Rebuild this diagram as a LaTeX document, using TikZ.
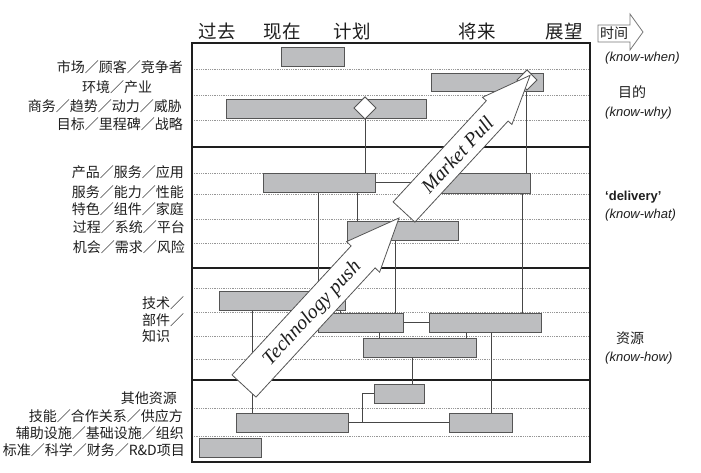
\documentclass[tikz,border=0pt]{standalone}
\usepackage{fontspec}
\setmainfont{Liberation Sans}
\newfontfamily\cjk{Noto Sans CJK SC}
\newfontfamily\tms{Liberation Serif}
\usetikzlibrary{shapes.geometric}
\definecolor{barfill}{RGB}{189,190,192}
\definecolor{bardraw}{RGB}{85,85,85}
\definecolor{gridc}{RGB}{150,150,150}
\definecolor{linec}{RGB}{70,70,70}
\definecolor{txt}{RGB}{30,30,30}
\begin{document}
\begin{tikzpicture}[x=1pt,y=-1pt,
  bar/.style={draw=bardraw, fill=barfill, line width=0.8pt, inner sep=0pt, outer sep=0pt},
  ms/.style={diamond, draw=bardraw, fill=white, line width=0.8pt, inner sep=0pt, outer sep=0pt},
  conn/.style={draw=linec, line width=0.7pt},
  gridline/.style={draw=gridc, line width=0.8pt, densely dotted},
  sep/.style={draw=txt, line width=2.6pt},
  bigarrow/.style={draw=bardraw, fill=white, line width=0.8pt, line join=miter},
  lab/.style={font=\cjk\fontsize{14}{16}\selectfont, text=txt, inner sep=0pt},
  head/.style={font=\cjk\fontsize{18.5}{20}\selectfont, text=txt, inner sep=0pt},
  kn/.style={font=\itshape\fontsize{13}{15}\selectfont, text=txt, inner sep=0pt, anchor=west},
  atext/.style={font=\tms\itshape\fontsize{20}{21}\selectfont, text=txt, inner sep=0pt, rotate=47.3}]
\useasboundingbox (0,0) rectangle (701,472);

% grid
\foreach \yy in {69,95,120,173,194,219,243,288,312,336,359,408,436}
  \draw[gridline] (192,\yy) -- (590,\yy);
\foreach \yy in {147,268,380}
  \draw[sep] (192,\yy) -- (590,\yy);
\draw[draw=txt, line width=2.6pt] (192,43) rectangle (590,462);

% header
\node[head] (past) at (217,31) {过去};
\node[head] (now) at (282,31) {现在};
\node[head] (plan) at (352,31) {计划};
\node[head] (fut) at (477,31) {将来};
\node[head] (vis) at (564,31) {展望};
\draw[draw=gridc!80!black, line width=0.8pt, fill=white] (598,25) -- (630,25) -- (630,14) -- (643,32) -- (630,50) -- (630,42) -- (598,42) -- cycle;
\node[font=\cjk\fontsize{14}{16}\selectfont, text=txt, inner sep=0pt] (time) at (614,33.5) {时间};

% right labels
\node[kn] (kwhen) at (605,58) {(know-when)};
\node[lab] (mudi) at (632,92) {目的};
\node[kn] (kwhy) at (605,113) {(know-why)};
\node[font=\bfseries\fontsize{13}{15}\selectfont, text=txt, inner sep=0pt, anchor=west] (deliv) at (605,197) {‘delivery’};
\node[kn] (kwhat) at (605,215) {(know-what)};
\node[lab] (ziyuan) at (630,338) {资源};
\node[kn] (khow) at (605,358) {(know-how)};

% left labels
\node[lab, anchor=east] (l1) at (183,67) {市场／顾客／竞争者};
\node[lab] (l2) at (117,87) {环境／产业};
\node[lab, anchor=east] (l3) at (182,106) {商务／趋势／动力／威胁};
\node[lab, anchor=east] (l4) at (183,124) {目标／里程碑／战略};
\node[lab, anchor=east] (l5) at (184,172) {产品／服务／应用};
\node[lab, anchor=east] (l6) at (184,192) {服务／能力／性能};
\node[lab, anchor=east] (l7) at (184,209) {特色／组件／家庭};
\node[lab, anchor=east] (l8) at (185,227) {过程／系统／平台};
\node[lab, anchor=east] (l9) at (185,247) {机会／需求／风险};
\node[lab, anchor=west] (l10) at (142,303) {技术／};
\node[lab, anchor=west] (l11) at (142,320) {部件／};
\node[lab, anchor=west] (l12) at (142,336) {知识};
\node[lab, anchor=east] (l13) at (177,398) {其他资源};
\node[lab, anchor=east] (l14) at (183,416) {技能／合作关系／供应方};
\node[lab, anchor=east] (l15) at (184,433) {辅助设施／基础设施／组织};
\node[lab, anchor=east] (l16) at (185,450) {标准／科学／财务／R\&D项目};

% bars (positions)
\path
  (312.5,56.5) node[bar, minimum width=63pt, minimum height=19pt] (A) {}
  (487,82)     node[bar, minimum width=112pt, minimum height=18pt] (B) {}
  (326,108.5)  node[bar, minimum width=200pt, minimum height=19pt] (C) {}
  (319,182.5)  node[bar, minimum width=112pt, minimum height=19pt] (D) {}
  (477.5,183)  node[bar, minimum width=105pt, minimum height=20pt] (E) {}
  (402.5,230.5) node[bar, minimum width=111pt, minimum height=19pt] (F) {}
  (282,300.5)  node[bar, minimum width=126pt, minimum height=19pt] (G) {}
  (360.5,322.5) node[bar, minimum width=85pt, minimum height=19pt] (H) {}
  (485,322.5)  node[bar, minimum width=112pt, minimum height=19pt] (I) {}
  (419.5,347.5) node[bar, minimum width=113pt, minimum height=19pt] (J) {}
  (399,393.5)  node[bar, minimum width=50pt, minimum height=19pt] (K) {}
  (480.5,422.5) node[bar, minimum width=63pt, minimum height=19pt] (L) {}
  (292,422.5)  node[bar, minimum width=112pt, minimum height=19pt] (M) {}
  (230,447.5)  node[bar, minimum width=62pt, minimum height=19pt] (N) {};

% milestones
\node[ms, minimum width=22pt, minimum height=22pt] (dC) at (365,108) {};
\node[ms, minimum width=20pt, minimum height=20pt] (dB) at (527,80) {};

% connectors
\coordinate (jn) at (362,422.5);
\draw[conn] (dC.south) -- (dC.south |- D.north);
\draw[conn] ([xshift=-1pt]dB.south) -- ([xshift=-1pt]dB.south |- E.north);
\draw[conn] (D.east) -- (D.east -| E.west);
\draw[conn] ([xshift=-1pt]D.south) -- ([xshift=-1pt]D.south |- G.north);
\draw[conn] ([xshift=38pt]D.south) -- ([xshift=38pt]D.south |- F.north);
\draw[conn] ([xshift=44.5pt]E.south) -- ([xshift=44.5pt]E.south |- I.north);
\draw[conn] ([xshift=-7.5pt]F.south) -- ([xshift=-7.5pt]F.south |- H.north);
\draw[conn] ([xshift=-30pt]G.south) -- ([xshift=-30pt]G.south |- M.north);
\draw[conn] ([xshift=58pt]G.south) -- ([xshift=58pt]G.south |- H.north);
\draw[conn] (H.east) -- (I.west);
\draw[conn] ([xshift=18.5pt]H.south) -- ([xshift=18.5pt]H.south |- J.north);
\draw[conn] ([xshift=-19pt]I.south) -- ([xshift=-19pt]I.south |- J.north);
\draw[conn] ([xshift=-7.5pt]J.south) -- ([xshift=-7.5pt]J.south |- K.north);
\draw[conn] ([xshift=6pt]I.south) -- ([xshift=6pt]I.south |- L.north);
\draw[conn] (M.east) -- (L.west);
\draw[conn] (jn) |- (K.west);

% redraw bars and milestones on top of connectors
\foreach \b in {A,B,C,D,E,F,G,H,I,J,K,L,M,N}
  \draw[bar] (\b.north west) rectangle (\b.south east);
\draw[draw=bardraw, fill=white, line width=0.8pt] (dC.north) -- (dC.east) -- (dC.south) -- (dC.west) -- cycle;
\draw[draw=bardraw, fill=white, line width=0.8pt] (dB.north) -- (dB.east) -- (dB.south) -- (dB.west) -- cycle;

% big arrows
\draw[bigarrow] (232.0,374.9) -- (351.1,245.9) -- (346.6,241.6) -- (399,218) -- (379.6,272.2) -- (375.1,267.9) -- (256.0,397.1) -- cycle;
\node[atext] (tp) at (312.5,313.5) {Technology push};
\draw[bigarrow] (393.1,201.9) -- (486.3,100.8) -- (482.5,97.3) -- (530.1,75.3) -- (511.9,124.5) -- (508.1,121.0) -- (414.9,222.1) -- cycle;
\node[atext] (mp) at (457.2,155) {Market Pull};
\end{tikzpicture}
\end{document}
